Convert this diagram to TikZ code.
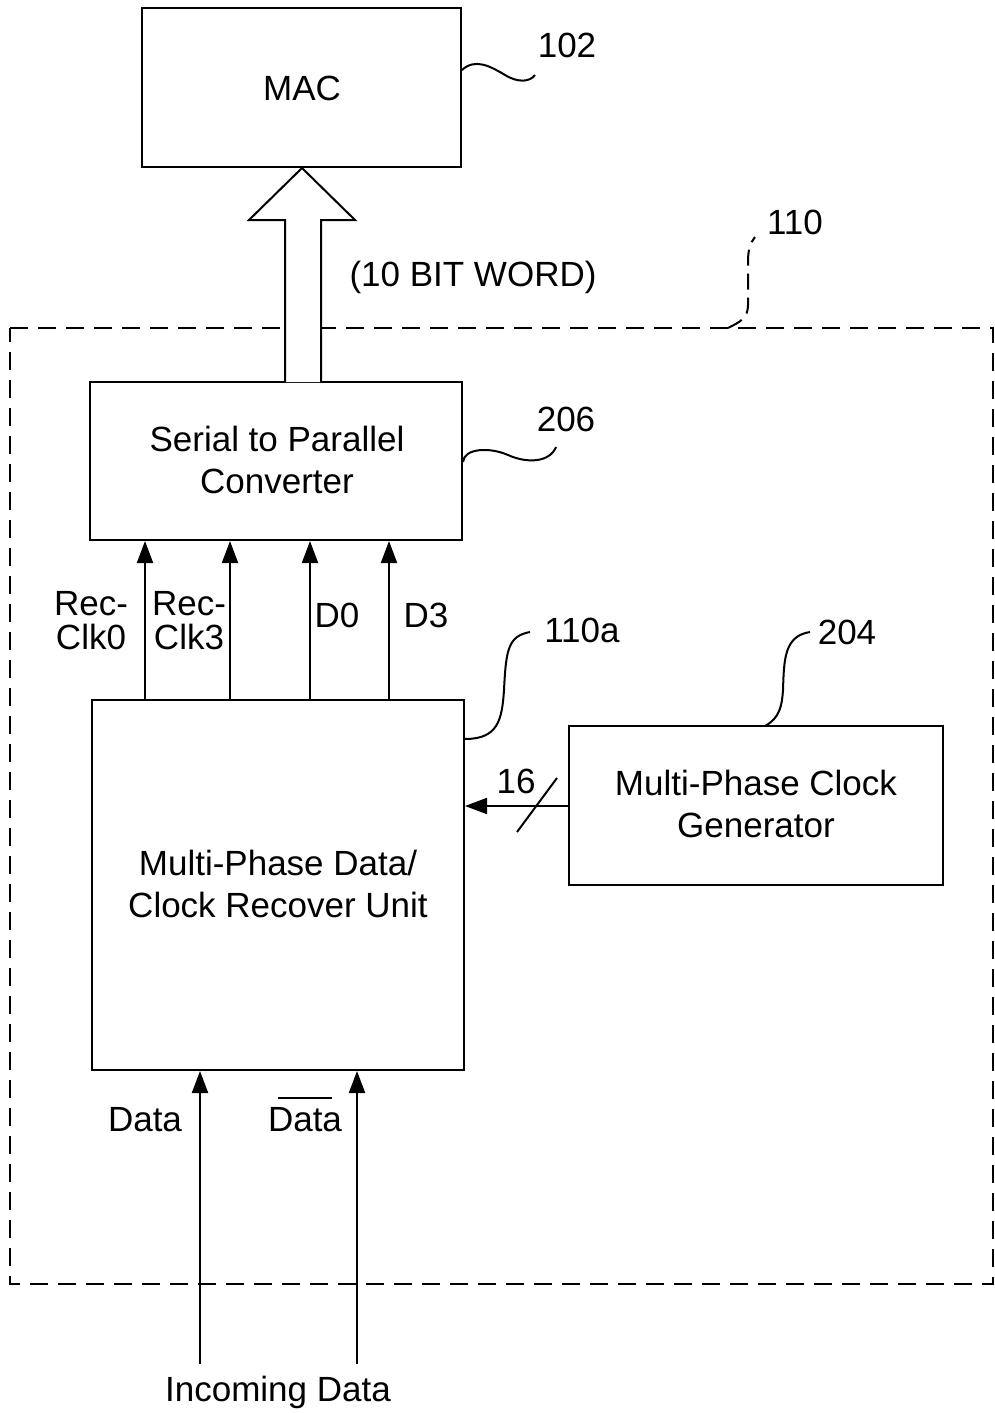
\documentclass[tikz,border=0pt]{standalone}
\usepackage{fontspec}
\setmainfont{Liberation Sans}
\usetikzlibrary{arrows.meta}
\begin{document}
\begin{tikzpicture}[x=1pt,y=-1pt,
  txt/.style={font=\fontsize{35}{42}\selectfont, align=center, inner sep=0pt},
  tight/.style={font=\fontsize{35}{34}\selectfont},
  blk/.style={draw, line width=2pt, inner sep=0pt},
  arr/.style={line width=2pt, -{Triangle[length=22pt,width=16pt]}},
  lead/.style={line width=2pt},
  dsh/.style={line width=2pt, dash pattern=on 18pt off 10pt}]
\useasboundingbox (0,0) rectangle (995,1413);
% blocks
\node[blk, minimum width=319pt, minimum height=159pt] (mac) at (301.5,87.5) {};
\node[txt] (mact) at (302,88) {MAC};
\node[blk, minimum width=372pt, minimum height=158pt] (sp) at (276,461) {};
\node[txt] (spt) at (277,460) {Serial to Parallel\\Converter};
\node[blk, minimum width=372pt, minimum height=370pt] (mpd) at (278,885) {};
\node[txt] (mpdt) at (278,884) {Multi-Phase Data/\\Clock Recover Unit};
\node[blk, minimum width=374pt, minimum height=159pt] (mcg) at (756,805.5) {};
\node[txt] (mcgt) at (756,804) {Multi-Phase Clock\\Generator};
% dashed enclosure
\draw[dsh] (10,328) -- (993,328) -- (993,1284) -- (10,1284) -- cycle;
% block arrow
\draw[line width=2pt, fill=white] (285,382) -- (285,220) -- (249,220) -- (302,168) -- (355,220) -- (321,220) -- (321,382);
\node[txt] (bw) at (473,277) {(10 BIT WORD)};
% labels and leaders
\node[txt] (l102) at (567,45) {102};
\draw[lead] (mac.east |- 0,70) .. controls (475,58) and (490,66) .. (505,75) .. controls (518,83) and (530,82) .. (535,75);
\node[txt] (l110) at (795,222) {110};
\draw[line width=2pt, dash pattern=on 16pt off 8pt] (728,328) .. controls (740,322) and (748,318) .. (748,305) -- (748,262) .. controls (748,250) and (750,243) .. (755,237);
\node[txt] (l206) at (566,419) {206};
\draw[lead] (sp.east |- 0,462) .. controls (464,448) and (490,447) .. (508,455) .. controls (528,464) and (550,462) .. (556,447);
\node[txt] (l110a) at (582,630) {110a};
\draw[lead] (mpd.east |- 0,739) .. controls (498,739) and (502,720) .. (504,690) .. controls (506,650) and (508,636) .. (530,632);
\node[txt] (l204) at (847,632) {204};
\draw[lead] (765,726) .. controls (780,718) and (782,705) .. (783,690) .. controls (784,660) and (784,636) .. (810,632);
% vertical arrows between blocks
\coordinate (c1) at (145,0);
\coordinate (c2) at (230,0);
\coordinate (c3) at (310,0);
\coordinate (c4) at (389,0);
\draw[arr] (mpd.north -| c1) -- (sp.south -| c1);
\draw[arr] (mpd.north -| c2) -- (sp.south -| c2);
\draw[arr] (mpd.north -| c3) -- (sp.south -| c3);
\draw[arr] (mpd.north -| c4) -- (sp.south -| c4);
\node[txt, tight] (lrc0) at (91,621) {Rec-\\Clk0};
\node[txt, tight] (lrc3) at (189,621) {Rec-\\Clk3};
\node[txt] (ld0) at (337,615) {D0};
\node[txt] (ld3) at (426,615) {D3};
% clock bus
\coordinate (cy) at (0,806);
\draw[arr] (mcg.west |- cy) -- (mpd.east |- cy);
\draw[lead] (517,832) -- (557,778);
\node[txt] (l16) at (516,781) {16};
% data inputs
\coordinate (d1) at (200,1364);
\coordinate (d2) at (357,1364);
\draw[arr] (d1) -- (mpd.south -| d1);
\draw[arr] (d2) -- (mpd.south -| d2);
\node[txt] (ldata) at (145,1120) {Data};
\node[txt] (ldatab) at (305,1120) {Data};
\draw[line width=1.5pt] (278,1098) -- (332,1098);
\node[txt] (linc) at (278,1392) {Incoming Data};
\end{tikzpicture}
\end{document}
